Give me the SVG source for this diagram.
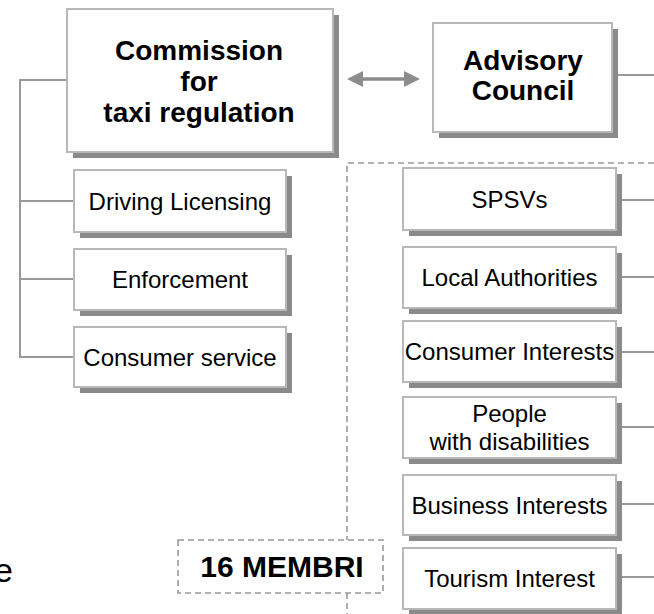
<svg xmlns="http://www.w3.org/2000/svg" width="654" height="614" viewBox="0 0 654 614">
<defs>
<style>
.sh{fill:#8a8a8a}
.bx{fill:#fff;stroke:#b8b8b8;stroke-width:2}
.t{font-family:"Liberation Sans",Arial,sans-serif;font-size:24px;fill:#000;text-anchor:middle}
.tb{font-family:"Liberation Sans",Arial,sans-serif;font-size:28px;font-weight:bold;fill:#000;text-anchor:middle}
.ln{fill:none;stroke:#999;stroke-width:2}
.ds{fill:none;stroke:#999;stroke-width:1.6;stroke-dasharray:6 4}
</style>
<marker id="ah" viewBox="0 0 16 16" refX="2" refY="8" markerWidth="16" markerHeight="16" markerUnits="userSpaceOnUse" orient="auto-start-reverse">
<path d="M0,0 L16,8 L0,16 Z" fill="#8c8c8c"/>
</marker>
</defs>
<rect width="654" height="614" fill="#fff"/>
<g id="connectors">
<path class="ln" d="M67,80 H20 V357 H74 M20,201 H74 M20,279 H74"/>
<path class="ln" d="M612,75 H654 M616,200 H654 M616,277 H654 M616,352 H654 M616,427 H654 M616,504 H654 M616,577 H654"/>
<line x1="361" y1="79" x2="406" y2="79" stroke="#8c8c8c" stroke-width="3.5" marker-start="url(#ah)" marker-end="url(#ah)"/>
<path class="ds" d="M654,163 H347 V540 M347,593 V614"/>
</g>
<g id="commission">
<rect class="sh" x="73" y="15" width="266" height="143"/>
<rect class="bx" x="67" y="9" width="266" height="143"/>
<text class="tb" x="199" y="60">Commission</text>
<text class="tb" x="199" y="91">for</text>
<text class="tb" x="199" y="122">taxi regulation</text>
</g>
<g id="advisory">
<rect class="sh" x="439" y="29" width="179" height="109"/>
<rect class="bx" x="433" y="23" width="179" height="109"/>
<text class="tb" x="523" y="70">Advisory</text>
<text class="tb" x="523" y="100">Council</text>
</g>
<g id="driving">
<rect class="sh" x="80" y="176" width="212" height="62"/>
<rect class="bx" x="74" y="170" width="212" height="62"/>
<text class="t" x="180" y="210">Driving Licensing</text>
</g>
<g id="enforcement">
<rect class="sh" x="80" y="255" width="212" height="61"/>
<rect class="bx" x="74" y="249" width="212" height="61"/>
<text class="t" x="180" y="288">Enforcement</text>
</g>
<g id="consumer-service">
<rect class="sh" x="80" y="333" width="212" height="60"/>
<rect class="bx" x="74" y="327" width="212" height="60"/>
<text class="t" x="180" y="366">Consumer service</text>
</g>
<g id="spsvs">
<rect class="sh" x="409" y="174" width="213" height="62"/>
<rect class="bx" x="403" y="168" width="213" height="62"/>
<text class="t" x="509.5" y="208">SPSVs</text>
</g>
<g id="local">
<rect class="sh" x="409" y="253" width="213" height="61"/>
<rect class="bx" x="403" y="247" width="213" height="61"/>
<text class="t" x="509.5" y="286">Local Authorities</text>
</g>
<g id="consumer-interests">
<rect class="sh" x="409" y="327" width="213" height="61"/>
<rect class="bx" x="403" y="321" width="213" height="61"/>
<text class="t" x="509.5" y="360">Consumer Interests</text>
</g>
<g id="people">
<rect class="sh" x="409" y="403" width="213" height="61"/>
<rect class="bx" x="403" y="397" width="213" height="61"/>
<text class="t" x="509.5" y="422">People</text>
<text class="t" x="509.5" y="450">with disabilities</text>
</g>
<g id="business">
<rect class="sh" x="409" y="481" width="213" height="60"/>
<rect class="bx" x="403" y="475" width="213" height="60"/>
<text class="t" x="509.5" y="514">Business Interests</text>
</g>
<g id="tourism">
<rect class="sh" x="409" y="554" width="213" height="61"/>
<rect class="bx" x="403" y="548" width="213" height="61"/>
<text class="t" x="509.5" y="587">Tourism Interest</text>
</g>
<g id="members">
<rect class="ds" x="178" y="540" width="205" height="53" fill="#fff"/>
<text class="tb" x="282" y="577" style="font-size:30px">16 MEMBRI</text>
</g>
<text x="13" y="582" style="font-family:'Liberation Sans',Arial,sans-serif;font-size:34px;text-anchor:end">e</text>
</svg>
